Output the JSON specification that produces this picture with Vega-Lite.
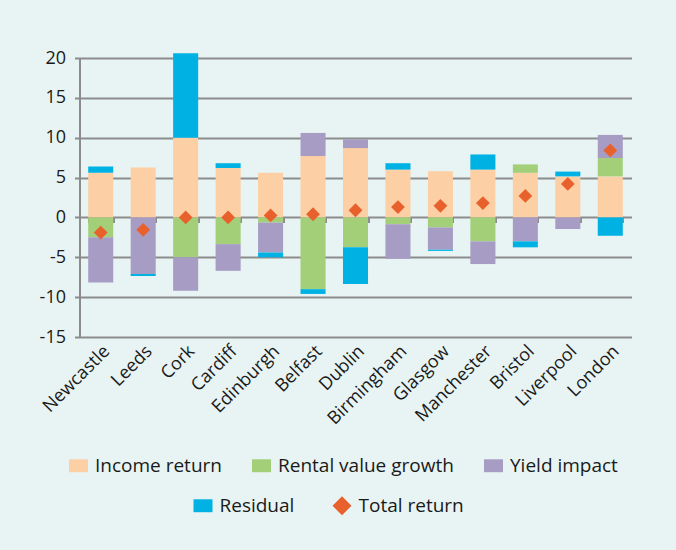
{
  "$schema": "https://vega.github.io/schema/vega-lite/v6.json",
  "width": 552,
  "height": 279,
  "autosize": {"type": "none"},
  "padding": {"left": 79.5, "top": 58, "right": 44.5, "bottom": 213},
  "background": "#E8F4F3",
  "config": {
    "font": "Open Sans",
    "view": {"stroke": null},
    "axis": {"labelFont": "Open Sans", "labelFontSize": 18, "labelColor": "#1a1a1a"},
    "legend": {"labelFont": "Open Sans", "labelFontSize": 19, "labelColor": "#1a1a1a", "labelLimit": 400}
  },
  "datasets": {
    "parts": [
      {"city": "Newcastle", "series": "Income return", "k": 0, "v": 5.6},
      {"city": "Newcastle", "series": "Rental value growth", "k": 1, "v": -2.5},
      {"city": "Newcastle", "series": "Yield impact", "k": 2, "v": -5.65},
      {"city": "Newcastle", "series": "Residual", "k": 3, "v": 0.8},
      {"city": "Leeds", "series": "Income return", "k": 0, "v": 6.25},
      {"city": "Leeds", "series": "Yield impact", "k": 2, "v": -7.1},
      {"city": "Leeds", "series": "Residual", "k": 3, "v": -0.25},
      {"city": "Cork", "series": "Income return", "k": 0, "v": 10.0},
      {"city": "Cork", "series": "Rental value growth", "k": 1, "v": -5.0},
      {"city": "Cork", "series": "Yield impact", "k": 2, "v": -4.2},
      {"city": "Cork", "series": "Residual", "k": 3, "v": 10.6},
      {"city": "Cardiff", "series": "Income return", "k": 0, "v": 6.2},
      {"city": "Cardiff", "series": "Rental value growth", "k": 1, "v": -3.35},
      {"city": "Cardiff", "series": "Yield impact", "k": 2, "v": -3.35},
      {"city": "Cardiff", "series": "Residual", "k": 3, "v": 0.6},
      {"city": "Edinburgh", "series": "Income return", "k": 0, "v": 5.6},
      {"city": "Edinburgh", "series": "Rental value growth", "k": 1, "v": -0.65},
      {"city": "Edinburgh", "series": "Yield impact", "k": 2, "v": -3.75},
      {"city": "Edinburgh", "series": "Residual", "k": 3, "v": -0.6},
      {"city": "Belfast", "series": "Income return", "k": 0, "v": 7.7},
      {"city": "Belfast", "series": "Rental value growth", "k": 1, "v": -9.0},
      {"city": "Belfast", "series": "Yield impact", "k": 2, "v": 2.9},
      {"city": "Belfast", "series": "Residual", "k": 3, "v": -0.6},
      {"city": "Dublin", "series": "Income return", "k": 0, "v": 8.7},
      {"city": "Dublin", "series": "Rental value growth", "k": 1, "v": -3.75},
      {"city": "Dublin", "series": "Yield impact", "k": 2, "v": 1.1},
      {"city": "Dublin", "series": "Residual", "k": 3, "v": -4.6},
      {"city": "Birmingham", "series": "Income return", "k": 0, "v": 6.0},
      {"city": "Birmingham", "series": "Rental value growth", "k": 1, "v": -0.85},
      {"city": "Birmingham", "series": "Yield impact", "k": 2, "v": -4.35},
      {"city": "Birmingham", "series": "Residual", "k": 3, "v": 0.8},
      {"city": "Glasgow", "series": "Income return", "k": 0, "v": 5.8},
      {"city": "Glasgow", "series": "Rental value growth", "k": 1, "v": -1.25},
      {"city": "Glasgow", "series": "Yield impact", "k": 2, "v": -2.8},
      {"city": "Glasgow", "series": "Residual", "k": 3, "v": -0.15},
      {"city": "Manchester", "series": "Income return", "k": 0, "v": 6.0},
      {"city": "Manchester", "series": "Rental value growth", "k": 1, "v": -3.0},
      {"city": "Manchester", "series": "Yield impact", "k": 2, "v": -2.85},
      {"city": "Manchester", "series": "Residual", "k": 3, "v": 1.9},
      {"city": "Bristol", "series": "Income return", "k": 0, "v": 5.6},
      {"city": "Bristol", "series": "Rental value growth", "k": 1, "v": 1.05},
      {"city": "Bristol", "series": "Yield impact", "k": 2, "v": -3.0},
      {"city": "Bristol", "series": "Residual", "k": 3, "v": -0.75},
      {"city": "Liverpool", "series": "Income return", "k": 0, "v": 5.15},
      {"city": "Liverpool", "series": "Yield impact", "k": 2, "v": -1.45},
      {"city": "Liverpool", "series": "Residual", "k": 3, "v": 0.6},
      {"city": "London", "series": "Income return", "k": 0, "v": 5.15},
      {"city": "London", "series": "Rental value growth", "k": 1, "v": 2.3},
      {"city": "London", "series": "Yield impact", "k": 2, "v": 2.9},
      {"city": "London", "series": "Residual", "k": 3, "v": -2.3}
    ],
    "totals": [
      {"city": "Newcastle", "s": "Total return", "total": -1.9},
      {"city": "Leeds", "s": "Total return", "total": -1.55},
      {"city": "Cork", "s": "Total return", "total": 0.0},
      {"city": "Cardiff", "s": "Total return", "total": 0.0},
      {"city": "Edinburgh", "s": "Total return", "total": 0.25},
      {"city": "Belfast", "s": "Total return", "total": 0.4},
      {"city": "Dublin", "s": "Total return", "total": 0.9},
      {"city": "Birmingham", "s": "Total return", "total": 1.3},
      {"city": "Glasgow", "s": "Total return", "total": 1.45},
      {"city": "Manchester", "s": "Total return", "total": 1.8},
      {"city": "Bristol", "s": "Total return", "total": 2.7},
      {"city": "Liverpool", "s": "Total return", "total": 4.2},
      {"city": "London", "s": "Total return", "total": 8.4}
    ]
  },
  "resolve": {"axis": {"x": "independent"}},
  "layer": [
    {
      "data": {"name": "parts"},
      "mark": {"type": "bar"},
      "encoding": {
        "x": {
          "field": "city", "type": "nominal",
          "sort": ["Newcastle","Leeds","Cork","Cardiff","Edinburgh","Belfast","Dublin","Birmingham","Glasgow","Manchester","Bristol","Liverpool","London"],
          "scale": {"paddingInner": 0.41, "paddingOuter": 0.205},
          "axis": {"orient": "bottom", "title": null, "labelAngle": -45, "ticks": false, "domain": false, "grid": false, "labelPadding": 5, "labelFontSize": 18}
        },
        "y": {
          "field": "v", "type": "quantitative", "stack": "zero",
          "scale": {"domain": [-15, 20], "nice": false, "zero": false},
          "axis": {"title": null, "values": [-15,-10,-5,0,5,10,15,20], "tickCount": 8, "labelOverlap": false, "labelExpr": "toString(datum.value)", "grid": true, "gridColor": "#8c8c8c", "gridWidth": 2, "domain": true, "domainColor": "#8c8c8c", "domainWidth": 2, "tickColor": "#8c8c8c", "tickWidth": 2, "tickSize": 5, "labelPadding": 9}
        },
        "order": {"field": "k", "type": "quantitative", "sort": "ascending"},
        "color": {
          "field": "series", "type": "nominal",
          "scale": {"domain": ["Income return","Rental value growth","Yield impact","Residual"], "range": ["#FCCFA4","#A3CF78","#A79CC4","#00B2E4"]},
          "legend": {
            "title": null, "orient": "none", "legendX": -10.5, "legendY": 398, "direction": "horizontal",
            "values": ["Income return","Rental value growth","Yield impact"],
            "symbolType": "M-1,-0.68H1V0.68H-1Z", "symbolSize": 361, "symbolStrokeWidth": 0,
            "labelOffset": 7, "columnPadding": 30
          }
        }
      }
    },
    {
      "data": {"name": "totals"},
      "mark": {"type": "point", "filled": true, "size": 190, "opacity": 1},
      "encoding": {
        "x": {
          "field": "city", "type": "nominal",
          "sort": ["Newcastle","Leeds","Cork","Cardiff","Edinburgh","Belfast","Dublin","Birmingham","Glasgow","Manchester","Bristol","Liverpool","London"],
          "axis": {"orient": "bottom", "title": null, "labels": false, "ticks": true, "tickBand": "extent", "tickSize": 5, "tickWidth": 2, "tickColor": "#8c8c8c", "domain": false, "grid": false, "offset": -119.6}
        },
        "y": {"field": "total", "type": "quantitative"},
        "fill": {
          "field": "s", "type": "nominal",
          "scale": {"domain": ["Residual","Total return"], "range": ["#00B2E4","#E8612C"]},
          "legend": {
            "title": null, "orient": "none", "legendX": 114, "legendY": 438, "direction": "horizontal",
            "symbolSize": 361, "symbolStrokeWidth": 0, "labelOffset": 7, "columnPadding": 38
          }
        },
        "shape": {
          "field": "s", "type": "nominal",
          "scale": {"domain": ["Residual","Total return"], "range": ["M-1,-0.68H1V0.68H-1Z","diamond"]},
          "legend": {
            "title": null, "orient": "none", "legendX": 114, "legendY": 438, "direction": "horizontal",
            "symbolSize": 361, "symbolStrokeWidth": 0, "labelOffset": 7, "columnPadding": 38
          }
        }
      }
    }
  ]
}
